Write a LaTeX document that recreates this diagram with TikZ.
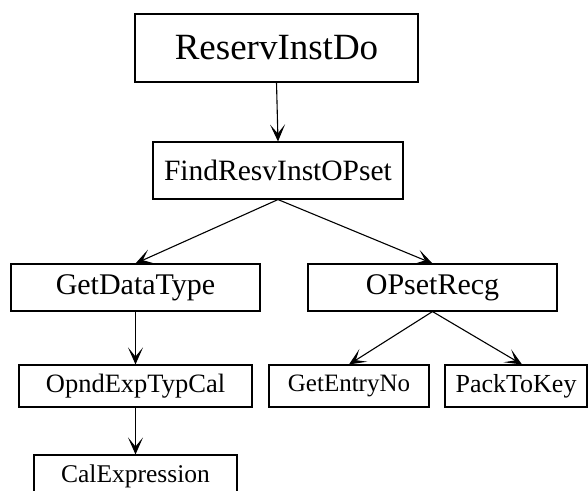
\documentclass[tikz,border=0pt]{standalone}
\usepackage{fontspec}
\setmainfont{Liberation Serif}
\usetikzlibrary{arrows.meta}
\tikzset{
  box/.style={draw=black, line width=1.1pt, inner sep=0pt, align=center, fill=white},
  edge/.style={draw=black, line width=1.1pt, -{Stealth[length=17pt,width=15pt,inset=9pt]}},
}
\newcommand{\fs}[1]{\fontsize{#1}{#1}\selectfont}
\begin{document}
\begin{tikzpicture}[x=1pt,y=-1pt]
\useasboundingbox (0,0) rectangle (588,490);
\clip (0,0) rectangle (588,490);
\node[box, minimum width=283pt, minimum height=68pt, font=\fs{37}] (A) at (276.5,48) {ReservInstDo};
\node[box, minimum width=250pt, minimum height=57pt, font=\fs{29.5}] (B) at (278,170.5) {FindResvInstOPset};
\node[box, minimum width=249pt, minimum height=47pt, font=\fs{30}] (C) at (135.5,287.5) {GetDataType};
\node[box, minimum width=249pt, minimum height=47pt, font=\fs{30}] (D) at (432.5,287.5) {OPsetRecg};
\node[box, minimum width=233pt, minimum height=42pt, font=\fs{26.5}] (E) at (135.5,386) {OpndExpTypCal};
\node[box, minimum width=160pt, minimum height=42pt, font=\fs{25}] (F) at (349,386) {GetEntryNo};
\node[box, minimum width=142pt, minimum height=42pt, font=\fs{26}] (G) at (516,386) {PackToKey};
\node[box, minimum width=203pt, minimum height=42pt, font=\fs{25.5}] (H) at (135.5,476) {CalExpression};
\draw[edge] (A.south) -- (B.north);
\draw[edge] (B.south) -- (C.north);
\draw[edge] (B.south) -- (D.north);
\draw[edge] (C.south) -- (E.north);
\draw[edge] (E.south) -- (H.north);
\draw[edge] (D.south) -- (F.north);
\draw[edge] (D.south) -- ([xshift=6pt]G.north);
\end{tikzpicture}
\end{document}
